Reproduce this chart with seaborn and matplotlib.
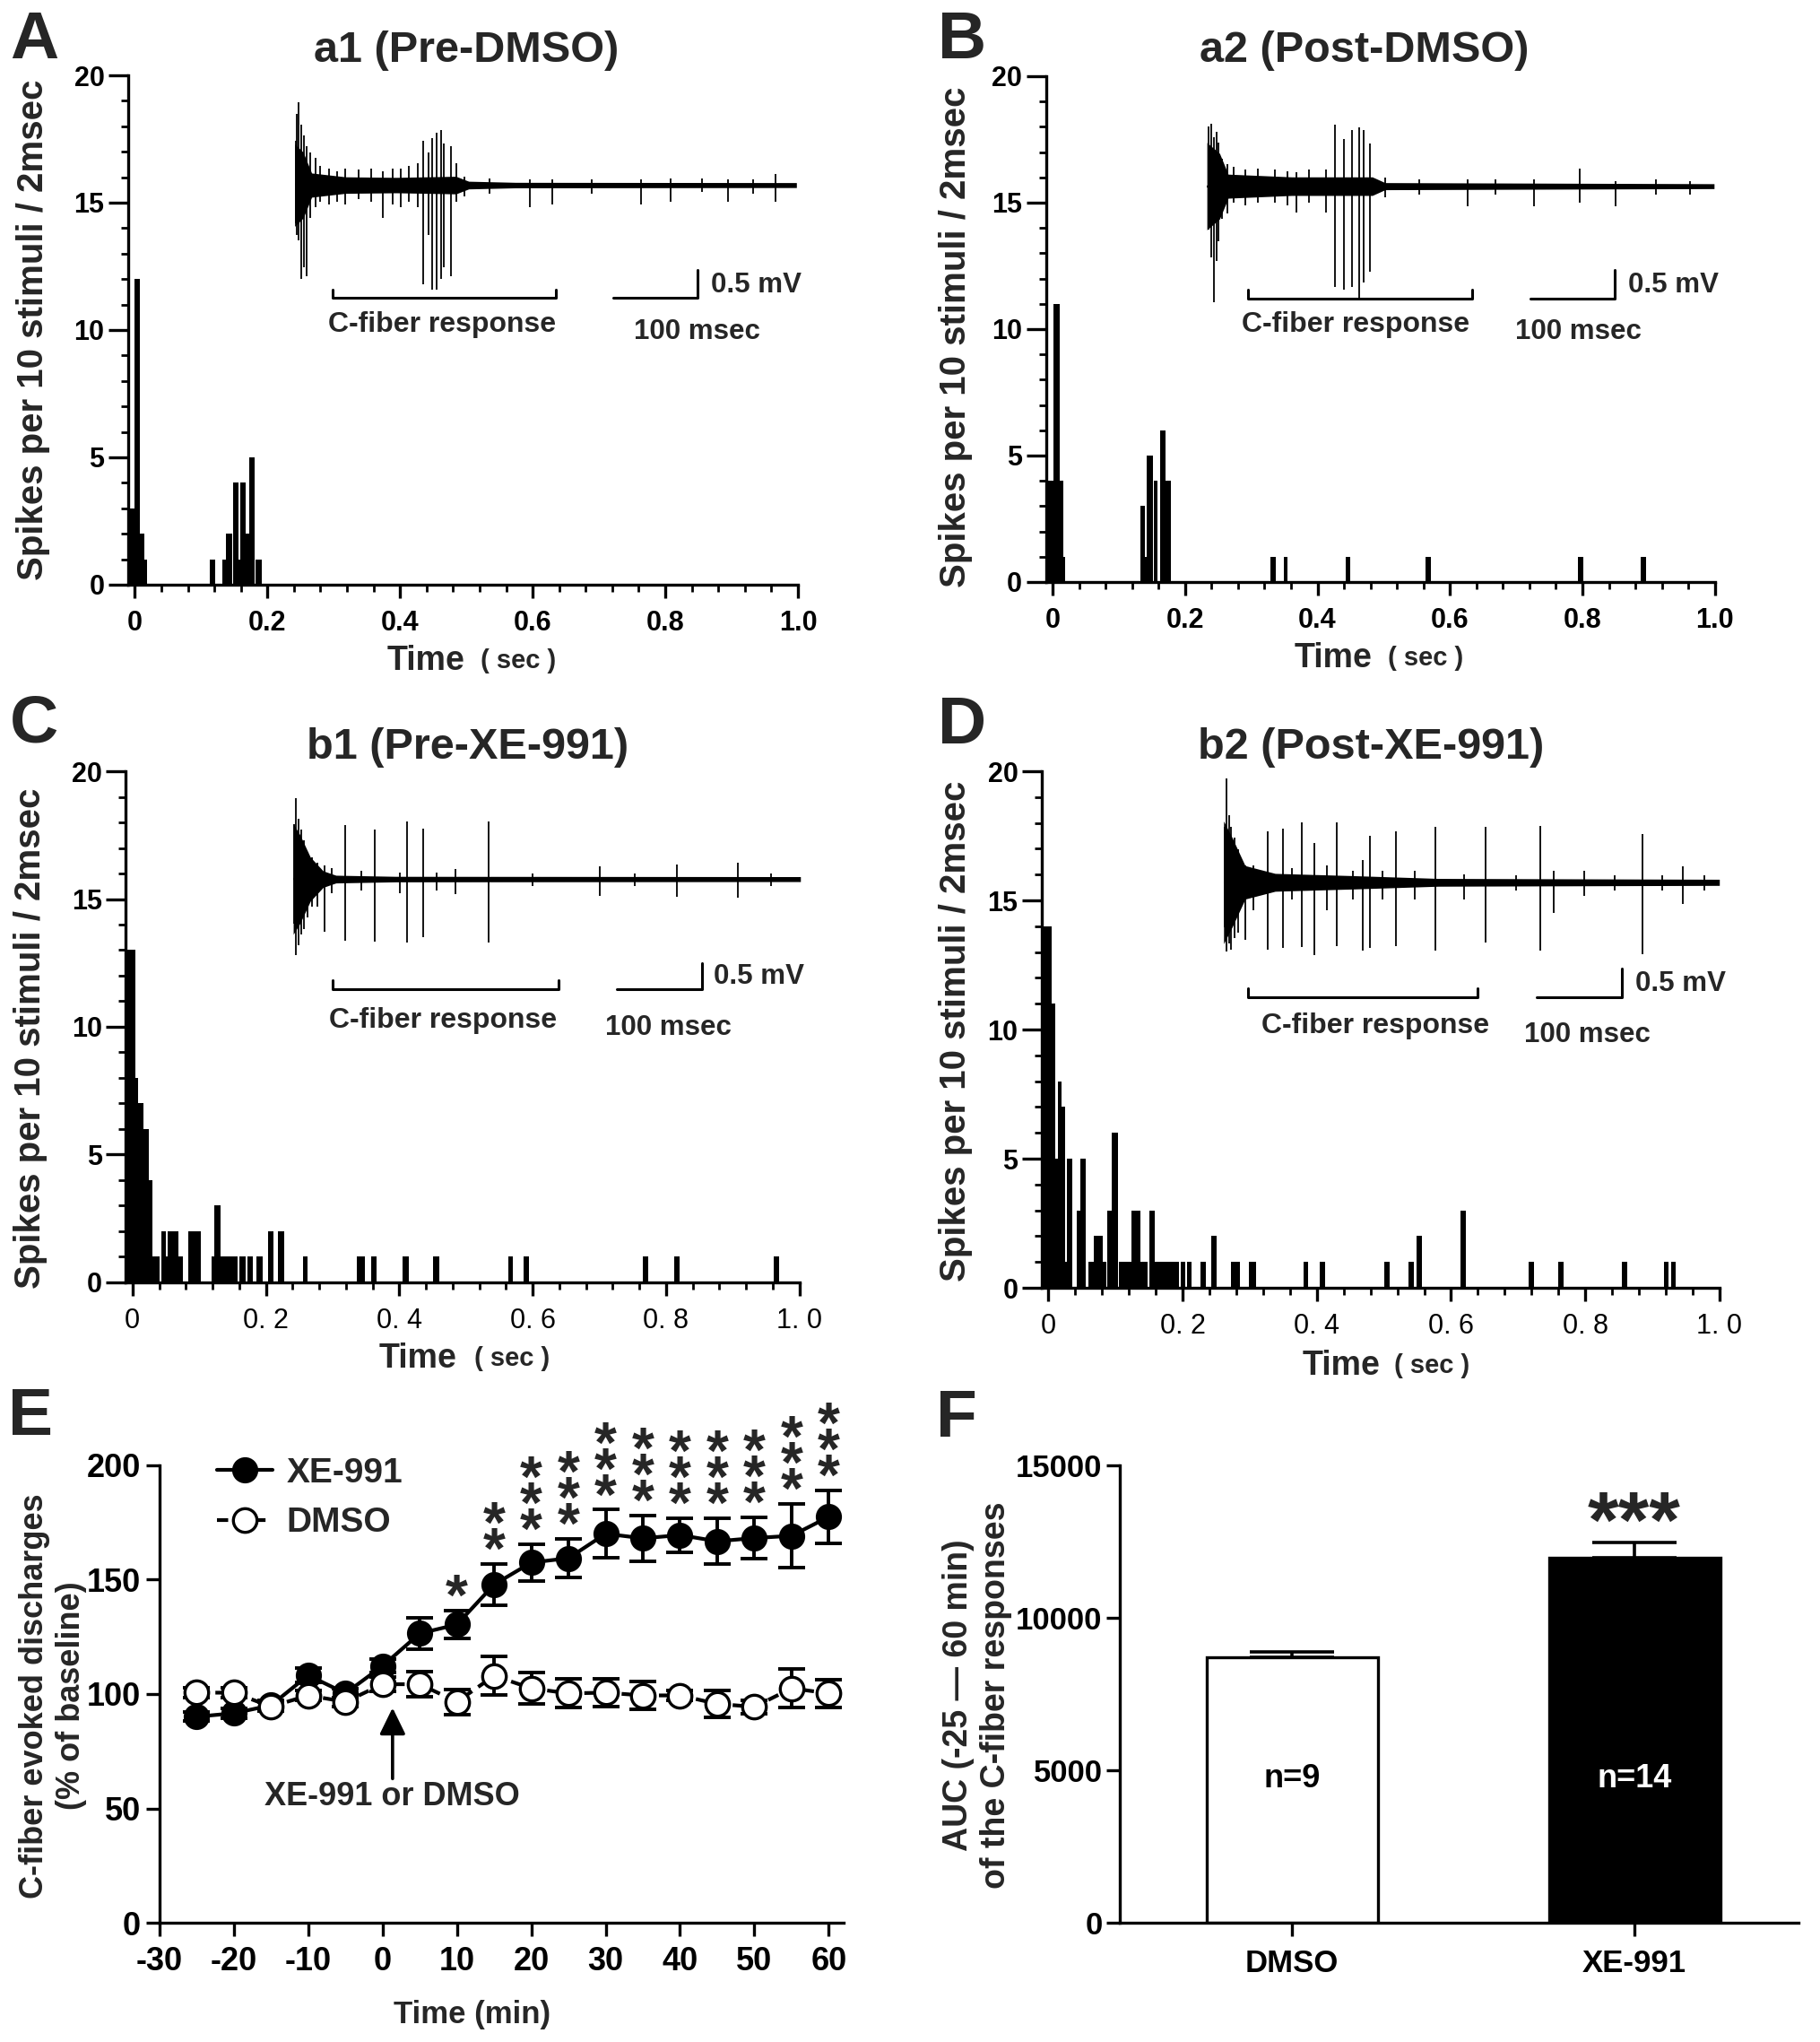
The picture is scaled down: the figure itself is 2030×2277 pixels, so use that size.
import numpy as np
import pandas as pd
import seaborn as sns
import matplotlib.pyplot as plt
from matplotlib.ticker import MultipleLocator

sns.set_style("ticks")
plt.rcParams['font.family'] = ['Liberation Sans', 'DejaVu Sans']
plt.rcParams['font.weight'] = 'bold'
plt.rcParams['axes.linewidth'] = 2.4
plt.rcParams['axes.edgecolor'] = 'black'
plt.rcParams['xtick.color'] = 'black'
plt.rcParams['ytick.color'] = 'black'
plt.rcParams['axes.unicode_minus'] = False

# ---------------- PSTH bars: (start s, end s, spikes per 10 stimuli) ----------------
a1_bars = [(-0.008, -0.001, 3), (-0.001, 0.008, 12), (0.008, 0.0145, 2), (0.0145, 0.018, 1),
           (0.113, 0.121, 1), (0.132, 0.137, 1), (0.137, 0.147, 2), (0.148, 0.156, 4),
           (0.156, 0.159, 1), (0.159, 0.167, 4), (0.167, 0.172, 2), (0.172, 0.181, 5),
           (0.182, 0.191, 1)]

a2_bars = [(-0.008, 0.002, 4), (0.002, 0.0104, 11), (0.0104, 0.016, 4), (0.016, 0.0195, 1),
           (0.132, 0.140, 3), (0.140, 0.142, 1), (0.142, 0.151, 5), (0.153, 0.159, 4),
           (0.163, 0.170, 6), (0.170, 0.179, 4), (0.329, 0.337, 1), (0.349, 0.355, 1),
           (0.442, 0.450, 1), (0.563, 0.571, 1), (0.793, 0.801, 1), (0.888, 0.896, 1)]

b1_bars = [(-0.008, 0.0045, 13), (0.0045, 0.009, 8), (0.009, 0.016, 7), (0.016, 0.017, 3),
           (0.017, 0.024, 6), (0.024, 0.030, 4), (0.030, 0.040, 1), (0.043, 0.050, 2),
           (0.050, 0.053, 1), (0.053, 0.061, 2), (0.061, 0.069, 2), (0.069, 0.075, 1),
           (0.083, 0.102, 2), (0.118, 0.123, 1), (0.123, 0.132, 3), (0.132, 0.157, 1),
           (0.160, 0.170, 1), (0.173, 0.181, 1), (0.186, 0.195, 1), (0.203, 0.211, 2),
           (0.218, 0.227, 2), (0.256, 0.263, 1), (0.336, 0.349, 1), (0.358, 0.366, 1),
           (0.405, 0.414, 1), (0.451, 0.460, 1), (0.563, 0.570, 1), (0.587, 0.595, 1),
           (0.765, 0.773, 1), (0.812, 0.820, 1), (0.962, 0.970, 1)]

b2_bars = [(-0.007, 0.0045, 14), (0.0045, 0.0104, 11), (0.0104, 0.0136, 5), (0.0136, 0.020, 8),
           (0.020, 0.025, 7), (0.025, 0.027, 1), (0.027, 0.035, 5), (0.042, 0.047, 3),
           (0.047, 0.056, 5), (0.059, 0.068, 1), (0.068, 0.081, 2), (0.081, 0.086, 1),
           (0.088, 0.094, 3), (0.094, 0.103, 6), (0.105, 0.124, 1), (0.124, 0.137, 3),
           (0.137, 0.148, 1), (0.150, 0.159, 3), (0.159, 0.194, 1), (0.197, 0.204, 1),
           (0.206, 0.213, 1), (0.226, 0.235, 1), (0.242, 0.251, 2), (0.272, 0.285, 1),
           (0.299, 0.310, 1), (0.380, 0.387, 1), (0.404, 0.412, 1), (0.500, 0.509, 1),
           (0.537, 0.545, 1), (0.549, 0.557, 2), (0.614, 0.622, 3), (0.715, 0.723, 1),
           (0.760, 0.768, 1), (0.855, 0.863, 1), (0.917, 0.924, 1), (0.928, 0.935, 1)]

# ---------------- raw traces: spikes (ms, top mV, bottom mV), noise envelope (ms, +/- mV) ----------------
a1_spikes = [(1, 0.8, -0.7), (3, 1.3, -0.9), (5, 1.5, -1.0), (8, 1.1, -1.7), (11, 0.9, -1.5),
             (14, 0.7, -1.65), (18, 0.6, -0.6), (25, 0.5, -0.4), (30, 0.35, -0.3), (40, 0.3, -0.35),
             (50, 0.25, -0.3), (60, 0.3, -0.35), (75, 0.28, -0.25), (90, 0.3, -0.3), (104, 0.25, -0.6),
             (115, 0.3, -0.35), (125, 0.3, -0.4), (135, 0.35, -0.3), (145, 0.4, -0.4),
             (151, 0.8, -1.8), (158, 0.6, -0.9), (162, 0.85, -1.9), (167, 0.95, -1.9),
             (172, 1.0, -1.7), (176, 0.75, -1.5), (184, 0.7, -1.65), (190, 0.4, -0.3),
             (200, 0.15, -0.2), (230, 0.12, -0.15), (277, 0.1, -0.4), (303, 0.1, -0.35),
             (350, 0.1, -0.15), (408, 0.1, -0.35), (443, 0.12, -0.3), (480, 0.12, -0.12),
             (510, 0.1, -0.3), (540, 0.1, -0.15), (566, 0.2, -0.3)]
a1_noise = [(0, 0.75), (10, 0.6), (20, 0.22), (60, 0.15), (120, 0.14), (190, 0.16), (205, 0.07),
            (260, 0.05), (591, 0.045)]

a2_spikes = [(2, 1.1, -0.8), (5, 1.14, -1.3), (8, 0.9, -2.29), (11, 1.0, -1.37), (14, 0.8, -1.0),
             (18, 0.5, -0.6), (24, 0.4, -0.5), (32, 0.35, -0.3), (45, 0.3, -0.35), (60, 0.32, -0.3),
             (80, 0.3, -0.3), (95, 0.28, -0.35), (106, 0.25, -0.49), (120, 0.3, -0.3),
             (140, 0.3, -0.49), (151, 1.12, -1.85), (162, 0.86, -1.89), (171, 1.02, -1.85),
             (180, 1.08, -2.05), (185, 1.02, -1.77), (192, 0.78, -1.57), (210, 0.15, -0.2),
             (250, 0.12, -0.15), (308, 0.12, -0.36), (340, 0.12, -0.15), (386, 0.12, -0.36),
             (440, 0.32, -0.3), (482, 0.1, -0.36), (530, 0.12, -0.15), (570, 0.1, -0.15)]
a2_noise = [(0, 0.8), (15, 0.6), (25, 0.22), (100, 0.17), (195, 0.17), (210, 0.065), (598, 0.045)]

b1_spikes = [(1, 1.0, -0.8), (3, 1.46, -1.37), (6, 1.1, -1.2), (9, 0.9, -1.0), (13, 0.7, -0.9),
             (17, 0.5, -0.7), (22, 0.4, -0.5), (28, 0.3, -0.5), (37, 0.25, -0.96), (45, 0.2, -0.25),
             (61, 0.98, -1.12), (80, 0.15, -0.2), (96, 0.9, -1.13), (125, 0.12, -0.25),
             (133, 1.05, -1.15), (152, 0.92, -1.05), (168, 0.12, -0.2), (190, 0.18, -0.27),
             (229, 1.04, -1.15), (280, 0.1, -0.12), (359, 0.24, -0.3), (400, 0.1, -0.12),
             (449, 0.26, -0.32), (521, 0.29, -0.34), (560, 0.1, -0.12)]
b1_noise = [(0, 1.0), (8, 0.8), (20, 0.4), (35, 0.15), (50, 0.07), (120, 0.05), (594, 0.045)]

b2_spikes = [(1, 1.0, -0.8), (3, 1.86, -1.24), (6, 1.2, -1.1), (9, 1.0, -1.2), (13, 0.8, -1.0),
             (17, 0.6, -0.9), (25, 0.3, -1.03), (35, 0.3, -0.5), (51, 0.92, -1.21), (69, 0.97, -1.18),
             (80, 0.25, -0.3), (91, 1.07, -1.16), (106, 0.71, -1.3), (120, 0.3, -0.5),
             (132, 1.07, -1.15), (150, 0.2, -0.3), (162, 0.4, -1.22), (170, 0.83, -1.18),
             (185, 0.2, -0.3), (201, 0.92, -1.15), (222, 0.2, -0.3), (247, 1.0, -1.22),
             (280, 0.15, -0.3), (305, 1.0, -1.08), (340, 0.12, -0.15), (369, 1.01, -1.22),
             (384, 0.2, -0.55), (420, 0.2, -0.25), (455, 0.12, -0.15), (488, 0.87, -1.28),
             (510, 0.12, -0.15), (535, 0.28, -0.38), (560, 0.12, -0.15)]
b2_noise = [(0, 1.1), (10, 0.8), (25, 0.3), (60, 0.16), (150, 0.12), (250, 0.07), (577, 0.055)]

# ---------------- E: time course (% of baseline) ----------------
e_time = [-25, -20, -15, -10, -5, 0, 5, 10, 15, 20, 25, 30, 35, 40, 45, 50, 55, 60]
xe_mean = [90.1, 91.6, 95.1, 108.2, 100.3, 112.3, 126.5, 130.4, 147.9, 157.5, 159.4, 170.1,
           168.1, 169.5, 166.8, 168.2, 169.2, 177.5]
xe_sem = [2, 2, 2, 3, 2, 3, 7, 6, 9, 8, 8.5, 10.5, 10, 7.5, 10, 9, 14, 11.5]
dmso_mean = [100.6, 100.6, 94.5, 99.4, 96.6, 104.3, 104.3, 96.6, 108.0, 102.5, 100.3, 100.6,
             99.4, 99.4, 95.7, 94.4, 102.5, 100.3]
dmso_sem = [2, 2, 2, 2, 2, 3, 5.5, 5.5, 8.5, 7, 6.3, 6, 6, 2, 6, 3, 8.5, 6]
xe_stars = [0, 0, 0, 0, 0, 0, 0, 1, 2, 3, 3, 3, 3, 3, 3, 3, 3, 3]

# ---------------- F: AUC ----------------
auc_groups = ['DMSO', 'XE-991']
auc_mean = [8700, 11980]
auc_sem = [200, 500]
auc_n = ['n=9', 'n=14']

MS_PER_UNIT = 781.0   # 100 msec scale bar spans 0.128 on the time axis
MV_PER_UNIT = 0.463   # 0.5 mV scale bar spans 1.08 on the count axis

fig = plt.figure(figsize=(20.31, 22.77), dpi=100)


def psth(ax, bars, cd_style):
    edges = sorted(set([b[0] for b in bars] + [b[1] for b in bars]))
    mids = [(b[0] + b[1]) / 2 for b in bars]
    counts = [b[2] for b in bars]
    sns.histplot(x=mids, weights=counts, bins=edges, ax=ax, color='black', alpha=1, linewidth=0)
    ax.set_xlim(-0.01, 1.0)
    ax.set_ylim(0, 20)
    ax.set_xticks([0, 0.2, 0.4, 0.6, 0.8, 1.0])
    if cd_style:
        ax.set_xticklabels(['0', '0. 2', '0. 4', '0. 6', '0. 8', '1. 0'])
        for lab in ax.get_xticklabels():
            lab.set_fontweight('normal')
    else:
        ax.set_xticklabels(['0', '0.2', '0.4', '0.6', '0.8', '1.0'])
    ax.xaxis.set_minor_locator(MultipleLocator(0.04))
    ax.set_yticks([0, 5, 10, 15, 20])
    ax.yaxis.set_minor_locator(MultipleLocator(1))
    ax.tick_params(axis='y', which='major', length=16, width=2.4, labelsize=22, pad=3)
    ax.tick_params(axis='y', which='minor', length=6, width=2)
    ax.tick_params(axis='x', which='major', length=11, width=2.4, labelsize=22, pad=9)
    ax.tick_params(axis='x', which='minor', length=6, width=2)
    sns.despine(ax=ax)
    ax.set_xlabel('')
    ax.set_ylabel('')


def trace(ax, x0, base, length, spikes, noise, lay):
    half = 4.6
    ins = ax.inset_axes([x0, base - half, length / MS_PER_UNIT, 2 * half], transform=ax.transData)
    ins.set_xlim(0, length)
    ins.set_ylim(-half * MV_PER_UNIT, half * MV_PER_UNIT)
    ins.axis('off')
    ins.patch.set_alpha(0)
    nm = [p[0] for p in noise]
    nv = [p[1] for p in noise]
    ins.fill_between(nm, [-v for v in nv], nv, color='black', lw=0)
    ins.vlines([s[0] for s in spikes], [s[2] for s in spikes], [s[1] for s in spikes],
               color='black', lw=1.3)
    ins.plot([0, length], [0, 0], color='black', lw=1.6)
    # bracket and scale bar
    bx0, bx1, by, bt = lay['brk']
    ax.plot([bx0, bx0, bx1, bx1], [bt, by, by, bt], color='black', lw=2.2)
    sx0, sx1, sy, st = lay['bar']
    ax.plot([sx0, sx1, sx1], [sy, sy, st], color='black', lw=2.2)
    ax.text(lay['cf'][0], lay['cf'][1], 'C-fiber response', ha='center', va='center', fontsize=23)
    ax.text(lay['mv'][0], lay['mv'][1], '0.5 mV', ha='left', va='center', fontsize=22.5)
    ax.text(lay['ms'][0], lay['ms'][1], '100 msec', ha='left', va='center', fontsize=22.5)


panels = [
    ('A', 'a1 (Pre-DMSO)', [0.0704, 0.7137, 0.3678, 0.2494], a1_bars, a1_spikes, a1_noise,
     (0.241, 15.69, 591), dict(brk=(0.298, 0.635, 11.28, 11.6), bar=(0.721, 0.849, 11.28, 12.36),
                              mv=(0.869, 11.76), ms=(0.753, 9.93), cf=(0.464, 10.22)),
     False, (0.0187, 0.9802), (0.256, 0.975), (0.018, 0.8384), (0.444, 0.582)),
    ('B', 'a2 (Post-DMSO)', [0.5744, 0.7150, 0.3674, 0.2477], a2_bars, a2_spikes, a2_noise,
     (0.233, 15.65, 598), dict(brk=(0.295, 0.634, 11.22, 11.56), bar=(0.722, 0.849, 11.22, 12.34),
                              mv=(0.869, 11.74), ms=(0.698, 9.9), cf=(0.458, 10.19)),
     False, (0.5283, 0.9802), (0.7494, 0.975), (0.525, 0.835), (0.429, 0.567)),
    ('C', 'b1 (Pre-XE-991)', [0.0691, 0.3720, 0.3699, 0.2503], b1_bars, b1_spikes, b1_noise,
     (0.241, 15.78, 594), dict(brk=(0.300, 0.639, 11.48, 11.81), bar=(0.726, 0.854, 11.48, 12.5),
                              mv=(0.872, 11.98), ms=(0.709, 9.97), cf=(0.465, 10.26)),
     True, (0.0187, 0.6451), (0.257, 0.6338), (0.0165, 0.4914), (0.434, 0.573)),
    ('D', 'b2 (Post-XE-991)', [0.5721, 0.3693, 0.3722, 0.2530], b2_bars, b2_spikes, b2_noise,
     (0.261, 15.7, 577), dict(brk=(0.298, 0.640, 11.26, 11.6), bar=(0.728, 0.855, 11.26, 12.37),
                             mv=(0.875, 11.77), ms=(0.709, 9.8), cf=(0.487, 10.15)),
     True, (0.5283, 0.6443), (0.7528, 0.6338), (0.525, 0.495), (0.442, 0.576)),
]

for letter, title, rect, bars, spikes, noise, tr, lay, cd, lpos, tpos, ypos, xl in panels:
    ax = fig.add_axes(rect)
    psth(ax, bars, cd)
    trace(ax, tr[0], tr[1], tr[2], spikes, noise, lay)
    ax.text(xl[0], -0.15, 'Time', transform=ax.transAxes, ha='center', va='center', fontsize=27)
    ax.text(xl[1], -0.15, '( sec )', transform=ax.transAxes, ha='center', va='center',
            fontsize=21)
    fig.text(lpos[0], lpos[1], letter, ha='center', va='center', fontsize=54)
    fig.text(tpos[0], tpos[1], title, ha='center', va='center', fontsize=35)
    fig.text(ypos[0], ypos[1], 'Spikes per 10 stimuli / 2msec', rotation=90, ha='center',
             va='center', fontsize=29)

# ---------------- E ----------------
ax = fig.add_axes([0.0876, 0.0584, 0.3757, 0.2240])
ax.errorbar(e_time, xe_mean, yerr=xe_sem, fmt='none', ecolor='black', elinewidth=2.8,
            capsize=11, capthick=2.8, zorder=2)
ax.errorbar(e_time, dmso_mean, yerr=dmso_sem, fmt='none', ecolor='black', elinewidth=2.8,
            capsize=11, capthick=2.8, zorder=2)
sns.lineplot(x=e_time, y=xe_mean, ax=ax, color='black', lw=3, marker='o', markersize=19,
             markerfacecolor='black', markeredgecolor='black', markeredgewidth=2,
             label='XE-991', zorder=3)
sns.lineplot(x=e_time, y=dmso_mean, ax=ax, color='black', lw=3, linestyle=(0, (3, 2)),
             marker='o', markersize=19, markerfacecolor='white', markeredgecolor='black',
             markeredgewidth=2.4, label='DMSO', zorder=4)
# significance stars, one stacked text per time point
for t, m, s, n in zip(e_time, xe_mean, xe_sem, xe_stars):
    if n > 0:
        ax.text(t, m + s + 10 - 17, '\n'.join(['*'] * n), ha='center', va='bottom',
                fontsize=46, linespacing=0.34, clip_on=False)
ax.annotate('', xy=(1.34, 94), xytext=(1.34, 63),
            arrowprops=dict(arrowstyle='-|>,head_length=0.45,head_width=0.22', color='black',
                            lw=2.6, mutation_scale=40, shrinkA=0, shrinkB=0))
ax.text(1.34, 55, 'XE-991 or DMSO', ha='center', va='center', fontsize=26)
ax.set_xlim(-30, 62)
ax.set_ylim(0, 200)
ax.set_xticks(range(-30, 61, 10))
ax.set_yticks([0, 50, 100, 150, 200])
ax.tick_params(axis='both', length=11, width=2.4, labelsize=26)
ax.tick_params(axis='x', pad=8)
ax.tick_params(axis='y', pad=4)
sns.despine(ax=ax)
ax.set_xlabel('')
ax.set_ylabel('')
ax.legend(loc='upper left', bbox_to_anchor=(0.084, 1.018), frameon=False, fontsize=28,
          handlelength=1.6, handletextpad=0.4, labelspacing=0.5, borderpad=0, borderaxespad=0)
ax.text(0.457, -0.2, 'Time (min)', transform=ax.transAxes, ha='center', va='center', fontsize=25)
fig.text(0.0167, 0.3057, 'E', ha='center', va='center', fontsize=54)
fig.text(0.029, 0.1695, 'C-fiber evoked discharges\n(% of baseline)', rotation=90, ha='center',
         va='center', fontsize=26, linespacing=1.25, multialignment='center')

# ---------------- F ----------------
ax = fig.add_axes([0.615, 0.0584, 0.3727, 0.2238])
sns.barplot(x=auc_groups, y=auc_mean, hue=auc_groups, palette=['white', 'black'], width=0.5,
            edgecolor='black', linewidth=2.4, legend=False, ax=ax)
ax.errorbar([0, 1], auc_mean, yerr=[[0, 0], auc_sem], fmt='none', ecolor='black',
            elinewidth=2.6, capsize=34, capthick=2.6, zorder=3)
ax.text(1, 12340, '***', ha='center', va='baseline', fontsize=64)
ax.text(0, 4714, auc_n[0], ha='center', va='center', fontsize=26, color='black')
ax.text(1, 4714, auc_n[1], ha='center', va='center', fontsize=26, color='white')
ax.set_xlim(-0.503, 1.479)
ax.set_ylim(0, 15000)
ax.set_yticks([0, 5000, 10000, 15000])
ax.tick_params(axis='both', length=11, width=2.4, labelsize=25)
ax.tick_params(axis='x', pad=10)
ax.tick_params(axis='y', pad=3)
sns.despine(ax=ax)
ax.set_xlabel('')
ax.set_ylabel('')
fig.text(0.5254, 0.3052, 'F', ha='center', va='center', fontsize=54)
fig.text(0.5366, 0.170, 'AUC (-25 \u2014 60 min)\nof the C-fiber responses', rotation=90,
         ha='center', va='center', fontsize=27, linespacing=1.2, multialignment='center')

fig.savefig('out.png', dpi=100)
